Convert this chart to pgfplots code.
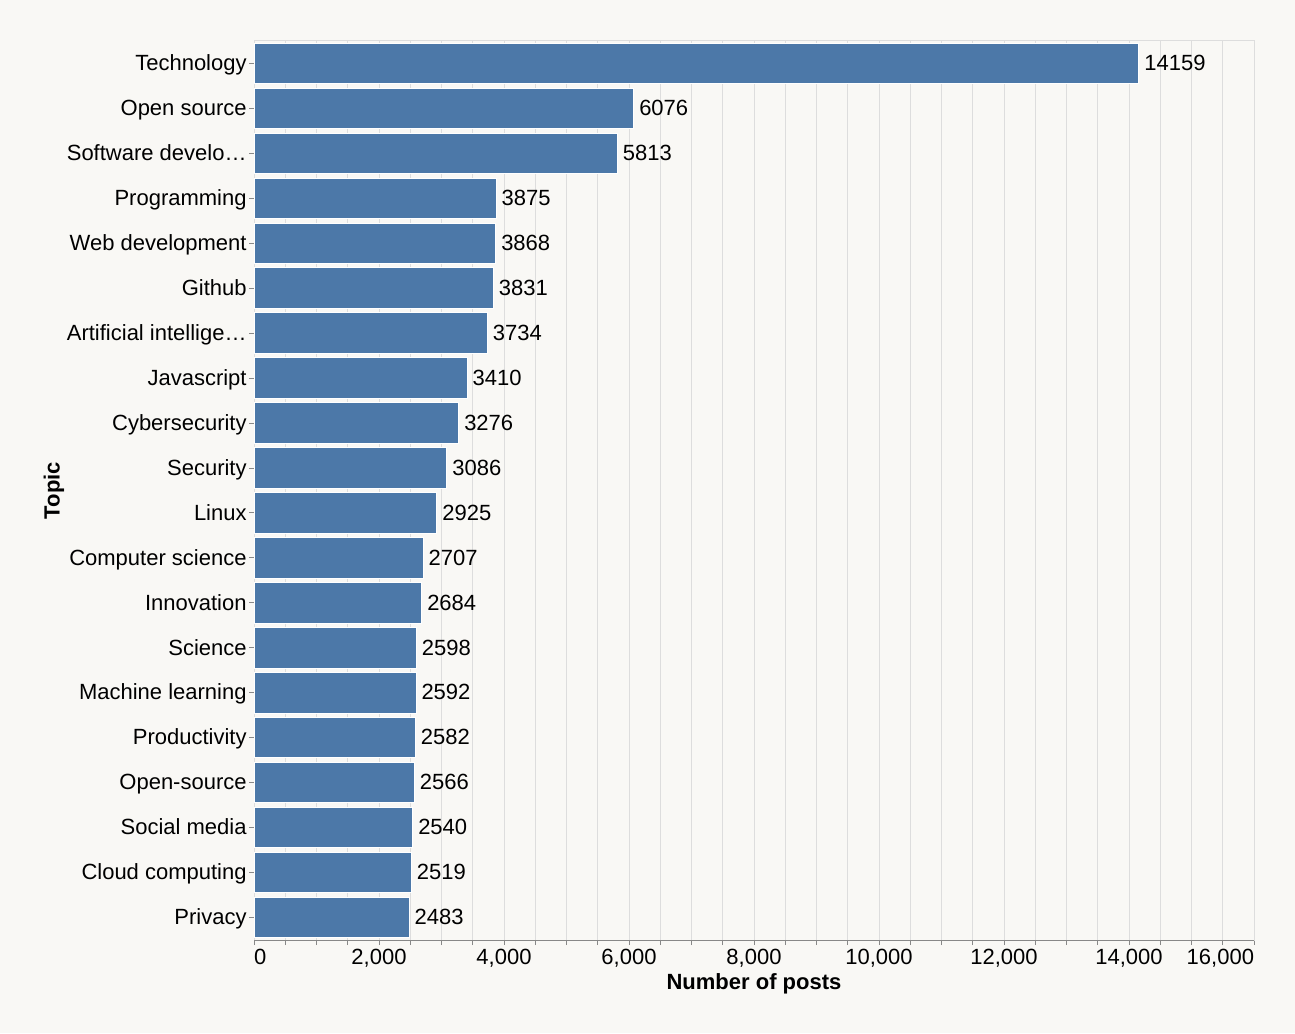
\documentclass[border=0pt]{standalone}
\usepackage{pgfplots}
\pgfplotsset{compat=1.18}
\usepackage{fontspec}
\setmainfont{Liberation Sans}

\definecolor{barblue}{HTML}{4C78A8}
\definecolor{bgcol}{HTML}{F9F8F5}
\definecolor{gridgray}{HTML}{DDDDDD}
\definecolor{axgray}{HTML}{888888}
\newcommand\lab{\fontsize{11pt}{13pt}\selectfont}

\begin{document}
\begin{tikzpicture}
\fill[bgcol] (0,0) rectangle (647.5pt,516.5pt);
\begin{axis}[
    at={(127pt,46.5pt)}, anchor=south west,
    scale only axis,
    width=500pt, height=449.5pt,
    xbar, bar width=0.9,
    xmin=0, xmax=16000,
    ymin=-0.5, ymax=19.5,
    y dir=reverse,
    scaled x ticks=false,
    ytick={0,...,19},
    yticklabels={Technology, Open source, Software develo…, Programming,
        Web development, Github, Artificial intellige…, Javascript,
        Cybersecurity, Security, Linux, Computer science, Innovation,
        Science, Machine learning, Productivity, Open-source,
        Social media, Cloud computing, Privacy},
    xtick={0,2000,...,16000},
    xticklabels={\rlap{0},{2,000},{4,000},{6,000},{8,000},{10,000},{12,000},{14,000},\llap{16,000}},
    minor x tick num=3,
    xmajorgrids, xminorgrids,
    grid style={gridgray, line width=0.5pt},
    minor grid style={gridgray, line width=0.5pt},
    axis line style={gridgray, line width=0.5pt},
    tick style={axgray, line width=0.5pt},
    major tick length=2.5pt, minor tick length=2.5pt,
    tick align=outside,
    xtick pos=left, ytick pos=left,
    xticklabel style={font=\lab, inner sep=0pt, text height=0.72em, text depth=0pt, yshift=-2.5pt},
    yticklabel style={font=\lab, inner sep=0pt, text height=0.72em, text depth=0pt, xshift=-1pt},
    /pgf/number format/assume math mode=true,
    nodes near coords,
    point meta=x,
    nodes near coords style={font=\lab, inner sep=0pt, anchor=west, xshift=2.5pt,
        text height=0.72em, text depth=0pt,
        /pgf/number format/set thousands separator={}},
    xlabel={Number of posts},
    xlabel style={font=\lab\bfseries, at={(axis description cs:0.5,-0.0556)}, anchor=base},
    ylabel={Topic},
    ylabel style={font=\lab\bfseries, at={(axis description cs:-0.2,0.5)}, anchor=center},
]
\addplot[fill=barblue, draw=white, line width=0.5pt] table {
x y
14159 0
6076 1
5813 2
3875 3
3868 4
3831 5
3734 6
3410 7
3276 8
3086 9
2925 10
2707 11
2684 12
2598 13
2592 14
2582 15
2566 16
2540 17
2519 18
2483 19
};
\draw[axgray, line width=0.5pt] (rel axis cs:0,0) -- (rel axis cs:1,0);
\end{axis}
\pgfresetboundingbox
\useasboundingbox (0,0) rectangle (647.5pt,516.5pt);
\end{tikzpicture}
\end{document}
